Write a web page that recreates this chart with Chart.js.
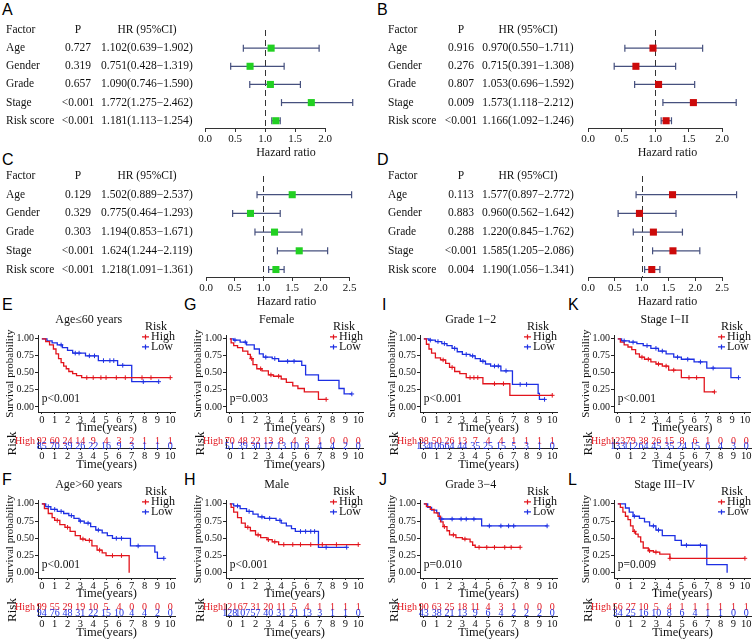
<!DOCTYPE html>
<html>
<head>
<meta charset="utf-8">
<script src="https://cdn.jsdelivr.net/npm/chart.js@4.4.1/dist/chart.umd.min.js"></script>
<style>
  body { margin: 0; background: #fff; }
  #fig { position: relative; width: 755px; height: 642px; overflow: hidden; background: #fff; }
  #fig canvas { position: absolute; }
  .tag { position: absolute; font: 16px 'Liberation Sans', Arial, sans-serif; color: #000; line-height: 20px; }
</style>
</head>
<body>
<div id="fig">
  <div class="tag" style="left:2px;top:0px">A</div>
  <div class="tag" style="left:377px;top:0px">B</div>
  <div class="tag" style="left:2px;top:150px">C</div>
  <div class="tag" style="left:377px;top:150px">D</div>
  <div class="tag" style="left:2px;top:295px">E</div>
  <div class="tag" style="left:184px;top:295px">G</div>
  <div class="tag" style="left:382px;top:295px">I</div>
  <div class="tag" style="left:568px;top:295px">K</div>
  <div class="tag" style="left:2px;top:470px">F</div>
  <div class="tag" style="left:184px;top:470px">H</div>
  <div class="tag" style="left:379px;top:470px">J</div>
  <div class="tag" style="left:568px;top:470px">L</div>
</div>
<script>
Chart.defaults.font.family = "'Liberation Serif', 'Times New Roman', serif";
Chart.defaults.color = '#111';

const RED = '#e2141c';
const BLUE = '#1d2fe3';
const GREEN = '#22d022';
const DARKRED = '#cc0a0a';
const CI = '#46507e';

// ---- forest plots (A-D) ----
const factors = ['Age', 'Gender', 'Grade', 'Stage', 'Risk score'];

const pA = ['0.727', '0.319', '0.657', '<0.001', '<0.001'];
const hrA = [1.102, 0.751, 1.090, 1.772, 1.181];
const loA = [0.639, 0.428, 0.746, 1.275, 1.113];
const hiA = [1.902, 1.319, 1.590, 2.462, 1.254];

const pB = ['0.916', '0.276', '0.807', '0.009', '<0.001'];
const hrB = [0.970, 0.715, 1.053, 1.573, 1.166];
const loB = [0.550, 0.391, 0.696, 1.118, 1.092];
const hiB = [1.711, 1.308, 1.592, 2.212, 1.246];

const pC = ['0.129', '0.329', '0.303', '<0.001', '<0.001'];
const hrC = [1.502, 0.775, 1.194, 1.624, 1.218];
const loC = [0.889, 0.464, 0.853, 1.244, 1.091];
const hiC = [2.537, 1.293, 1.671, 2.119, 1.361];

const pD = ['0.113', '0.883', '0.288', '<0.001', '0.004'];
const hrD = [1.577, 0.960, 1.220, 1.585, 1.190];
const loD = [0.897, 0.562, 0.845, 1.205, 1.056];
const hiD = [2.772, 1.642, 1.762, 2.086, 1.341];

const hrTicks20 = [0, 0.5, 1, 1.5, 2];
const hrTicks25 = [0, 0.5, 1, 1.5, 2, 2.5];

// ---- Kaplan-Meier panels (E-L) ----
const years = [0, 1, 2, 3, 4, 5, 6, 7, 8, 9, 10];
const survTicks = [0, 0.25, 0.5, 0.75, 1];
const riskGroups = ['High', 'Low'];

// E: Age<=60
const eHighT = [0, 0.3, 0.6, 0.9, 1.1, 1.3, 1.5, 1.7, 1.9, 2.1, 2.4, 2.7, 3.1, 10];
const eHighS = [1, 0.96, 0.91, 0.85, 0.78, 0.71, 0.65, 0.60, 0.56, 0.52, 0.49, 0.46, 0.43, 0.43];
const eHighC = [3.5, 4.0, 4.6, 5.0, 5.8, 6.5, 7.8, 8.5, 10];
const eLowT = [0, 0.4, 0.8, 1.2, 1.6, 2.0, 2.4, 3.4, 4.4, 5.9, 7.0, 9.1];
const eLowS = [1, 0.97, 0.94, 0.91, 0.87, 0.83, 0.79, 0.75, 0.68, 0.61, 0.37, 0.37];
const eLowC = [1.5, 2.6, 2.9, 3.7, 4.1, 4.8, 5.3, 5.6, 6.3, 7.9, 9.1];
const eRiskHigh = [92, 60, 24, 14, 9, 4, 3, 2, 1, 1, 1];
const eRiskLow = [85, 70, 39, 26, 22, 16, 9, 3, 1, 1, 0];

// G: Female
const gHighT = [0, 0.1, 0.3, 0.6, 1.0, 1.4, 1.6, 1.8, 2.1, 2.5, 3.0, 3.4, 4.0, 4.4, 4.9, 5.3, 5.8, 6.9, 7.5];
const gHighS = [1, 0.94, 0.90, 0.87, 0.82, 0.77, 0.71, 0.62, 0.56, 0.53, 0.47, 0.45, 0.41, 0.36, 0.31, 0.27, 0.22, 0.11, 0.11];
const gHighC = [1.7, 2.4, 3.2, 3.8, 7.5];
const gLowT = [0, 0.3, 0.8, 1.3, 1.9, 2.3, 2.6, 3.3, 3.8, 5.6, 5.9, 6.9, 8.5, 8.9, 9.5];
const gLowS = [1, 0.98, 0.95, 0.91, 0.85, 0.78, 0.73, 0.71, 0.67, 0.61, 0.47, 0.39, 0.27, 0.19, 0.19];
const gLowC = [0.4, 1.2, 2.8, 3.5, 4.5, 5.0, 9.5];
const gRiskHigh = [70, 48, 22, 13, 8, 4, 3, 1, 0, 0, 0];
const gRiskLow = [51, 39, 30, 17, 13, 10, 6, 4, 4, 2, 0];

// I: Grade 1-2
const iHighT = [0, 0.2, 0.4, 0.6, 0.9, 1.3, 1.7, 2.0, 2.4, 2.8, 3.3, 4.6, 6.7, 10];
const iHighS = [1, 0.92, 0.85, 0.79, 0.72, 0.69, 0.64, 0.58, 0.52, 0.49, 0.43, 0.34, 0.17, 0.17];
const iHighC = [1.5, 2.2, 3.6, 3.9, 4.2, 5.5, 6.2, 10];
const iLowT = [0, 0.4, 0.9, 1.4, 1.8, 2.2, 2.6, 3.0, 3.6, 4.0, 4.4, 4.8, 5.2, 6.0, 6.9, 8.9, 9.0, 9.4];
const iLowS = [1, 0.98, 0.96, 0.93, 0.90, 0.86, 0.81, 0.77, 0.75, 0.71, 0.67, 0.63, 0.60, 0.53, 0.33, 0.20, 0.11, 0.11];
const iLowC = [0.5, 1.1, 1.6, 2.4, 3.3, 3.8, 4.6, 5.5, 5.8, 6.4, 7.5, 8.0, 9.4];
const iRiskHigh = [98, 50, 26, 13, 7, 4, 4, 1, 1, 1, 1];
const iRiskLow = [134, 106, 64, 44, 35, 25, 15, 5, 3, 1, 0];

// K: Stage I-II
const kHighT = [0, 0.2, 0.5, 0.8, 1.1, 1.4, 1.7, 2.1, 2.6, 3.0, 3.5, 4.0, 5.0, 6.8, 7.6];
const kHighS = [1, 0.95, 0.91, 0.88, 0.84, 0.78, 0.73, 0.70, 0.66, 0.63, 0.60, 0.54, 0.43, 0.22, 0.22];
const kHighC = [1.9, 2.4, 3.2, 3.8, 4.4, 5.6, 6.2, 7.6];
const kLowT = [0, 0.3, 0.9, 1.5, 2.0, 2.6, 3.2, 3.8, 4.4, 5.0, 6.0, 7.0, 8.9, 9.5];
const kLowS = [1, 0.97, 0.95, 0.93, 0.90, 0.86, 0.82, 0.78, 0.73, 0.70, 0.66, 0.57, 0.43, 0.43];
const kLowC = [0.5, 1.2, 2.3, 3.0, 3.5, 4.7, 5.5, 6.5, 7.5, 9.5];
const kRiskHigh = [123, 79, 38, 26, 15, 8, 6, 1, 0, 0, 0];
const kRiskLow = [133, 112, 64, 45, 35, 24, 15, 6, 4, 3, 0];

// F: Age>60
const fHighT = [0, 0.2, 0.5, 0.8, 1.0, 1.4, 1.8, 2.2, 2.6, 3.0, 3.4, 3.9, 4.3, 4.7, 5.0, 6.8];
const fHighS = [1, 0.93, 0.86, 0.80, 0.76, 0.70, 0.66, 0.60, 0.54, 0.49, 0.47, 0.39, 0.33, 0.29, 0.25, 0];
const fHighC = [1.2, 2.0, 3.2, 3.7, 4.5, 5.5, 6.2];
const fLowT = [0, 0.3, 0.7, 1.2, 1.7, 2.1, 2.5, 2.9, 3.3, 3.8, 4.2, 4.7, 5.1, 5.5, 6.9, 8.8, 9.0, 9.5];
const fLowS = [1, 0.96, 0.92, 0.89, 0.86, 0.83, 0.79, 0.75, 0.72, 0.67, 0.62, 0.58, 0.54, 0.50, 0.39, 0.30, 0.21, 0.21];
const fLowC = [0.5, 1.0, 1.5, 2.3, 3.0, 3.6, 4.4, 5.8, 6.2, 7.5, 9.5];
const fRiskHigh = [99, 55, 29, 19, 10, 5, 4, 0, 0, 0, 0];
const fRiskLow = [94, 76, 48, 31, 22, 15, 10, 4, 4, 2, 0];

// H: Male
const hHighT = [0, 0.1, 0.3, 0.6, 0.9, 1.2, 1.6, 2.0, 2.4, 2.9, 3.3, 3.8, 10];
const hHighS = [1, 0.95, 0.88, 0.80, 0.72, 0.66, 0.61, 0.55, 0.51, 0.48, 0.45, 0.41, 0.41];
const hHighC = [1.4, 2.2, 3.0, 3.5, 4.2, 4.9, 5.5, 6.3, 7.2, 8.3, 10];
const hLowT = [0, 0.3, 0.8, 1.3, 1.8, 2.2, 2.7, 3.6, 4.0, 4.4, 4.8, 5.1, 6.9, 9.1];
const hLowS = [1, 0.97, 0.93, 0.89, 0.85, 0.81, 0.79, 0.76, 0.72, 0.68, 0.64, 0.60, 0.37, 0.37];
const hLowC = [0.6, 1.5, 2.5, 3.1, 3.9, 5.5, 5.9, 6.3, 6.6, 7.5, 9.1];
const hRiskHigh = [121, 67, 31, 20, 11, 5, 4, 1, 1, 1, 1];
const hRiskLow = [128, 107, 57, 40, 31, 21, 13, 3, 1, 1, 0];

// J: Grade 3-4
const jHighT = [0, 0.2, 0.5, 0.8, 1.1, 1.3, 1.5, 1.8, 2.0, 2.5, 3.0, 3.6, 3.8, 4.0, 7.5];
const jHighS = [1, 0.96, 0.92, 0.87, 0.82, 0.74, 0.67, 0.61, 0.55, 0.51, 0.49, 0.45, 0.40, 0.37, 0.37];
const jHighC = [1.6, 2.3, 3.2, 4.3, 4.9, 5.5, 6.3, 6.8, 7.5];
const jLowT = [0, 0.3, 0.6, 1.0, 1.2, 4.5, 9.6];
const jLowS = [1, 0.95, 0.91, 0.87, 0.78, 0.68, 0.68];
const jLowC = [1.4, 2.2, 2.9, 3.3, 3.9, 5.1, 6.0, 6.6, 7.0, 9.6];
const jRiskHigh = [90, 63, 25, 18, 11, 4, 3, 1, 0, 0, 0];
const jRiskLow = [43, 38, 21, 13, 9, 6, 4, 2, 2, 2, 0];

// L: Stage III-IV
const lHighT = [0, 0.2, 0.4, 0.6, 0.8, 1.0, 1.2, 1.4, 1.6, 1.8, 2.0, 2.4, 2.8, 3.3, 4.1, 10];
const lHighS = [1, 0.95, 0.88, 0.82, 0.77, 0.68, 0.60, 0.56, 0.52, 0.45, 0.36, 0.32, 0.30, 0.27, 0.21, 0.21];
const lHighC = [1.3, 2.5, 3.0, 4.1, 10];
const lLowT = [0, 0.6, 0.9, 1.2, 1.7, 2.1, 2.5, 3.0, 3.5, 4.5, 5.0, 7.0, 8.6, 8.6];
const lLowS = [1, 0.94, 0.88, 0.82, 0.79, 0.74, 0.68, 0.62, 0.54, 0.47, 0.40, 0.12, 0.12, 0];
const lLowC = [1.3, 2.8, 3.2, 5.4, 6.5];
const lRiskHigh = [56, 27, 10, 5, 4, 1, 1, 1, 1, 1, 1];
const lRiskLow = [34, 25, 16, 10, 8, 6, 4, 1, 1, 0, 0];

const fig = document.getElementById('fig');
function addCanvas(x, y, w, h) {
  const c = document.createElement('canvas');
  c.width = w; c.height = h;
  c.style.left = x + 'px'; c.style.top = y + 'px';
  c.style.width = w + 'px'; c.style.height = h + 'px';
  fig.appendChild(c);
  return c;
}

// dashed line at HR = 1, axis line and the left-hand table
const forestText = {
  id: 'forestText',
  beforeDatasetsDraw(chart, args, o) {
    const { ctx, chartArea: a, scales: { x } } = chart;
    ctx.save();
    ctx.strokeStyle = '#333';
    ctx.lineWidth = 1;
    ctx.beginPath();
    ctx.moveTo(x.getPixelForValue(o.ticks[0]), a.bottom + 0.5);
    ctx.lineTo(x.getPixelForValue(o.ticks[o.ticks.length - 1]), a.bottom + 0.5);
    ctx.stroke();
    ctx.setLineDash([6, 4]);
    const rx = Math.round(x.getPixelForValue(1)) + 0.5;
    ctx.beginPath();
    ctx.moveTo(rx, a.top);
    ctx.lineTo(rx, a.bottom);
    ctx.stroke();
    ctx.restore();
  },
  afterDraw(chart, args, o) {
    const { ctx, scales: { y } } = chart;
    ctx.save();
    ctx.font = "11.5px 'Liberation Serif'";
    ctx.fillStyle = '#111';
    ctx.textBaseline = 'middle';
    const line = (yy, a, b, c) => {
      ctx.textAlign = 'left'; ctx.fillText(a, o.cols[0], yy);
      ctx.textAlign = 'center'; ctx.fillText(b, o.cols[1], yy); ctx.fillText(c, o.cols[2], yy);
    };
    line(y.getPixelForValue(0), 'Factor', 'P', 'HR (95%CI)');
    factors.forEach((f, i) => {
      line(y.getPixelForValue(i + 1), f, o.pv[i],
        `${o.hr[i].toFixed(3)}(${o.lo[i].toFixed(3)}\u2212${o.hi[i].toFixed(3)})`);
    });
    ctx.restore();
  }
};

function forest(left, top, w, h, padL, ppu, ticks, cols, hr, lo, hi, pv, color) {
  const ds = [{
    data: hr.map((v, i) => ({ x: v, y: i + 1 })),
    pointStyle: 'rect', pointRadius: 5, pointBackgroundColor: color, pointBorderWidth: 0
  }];
  hr.forEach((v, i) => ds.push({
    data: [{ x: lo[i], y: i + 1 }, { x: hi[i], y: i + 1 }],
    showLine: true, borderColor: CI, borderWidth: 1.2,
    pointStyle: 'line', rotation: 90, pointRadius: 3.5, pointBorderColor: CI, pointBorderWidth: 1.2
  }));
  new Chart(addCanvas(left, top, w, h), {
    type: 'scatter',
    data: { datasets: ds },
    options: {
      responsive: false, animation: false, devicePixelRatio: 1, events: [],
      layout: { padding: { left: padL, right: 8, top: 30, bottom: 0 } },
      plugins: {
        legend: { display: false }, tooltip: { enabled: false },
        forestText: { cols, hr, lo, hi, pv, ticks }
      },
      scales: {
        x: {
          type: 'linear', min: 0, max: (w - padL - 8) / ppu,
          afterBuildTicks: s => { s.ticks = ticks.map(v => ({ value: v })); },
          ticks: { callback: v => v.toFixed(1), font: { size: 11 }, padding: 1, maxRotation: 0, autoSkip: false },
          grid: { drawOnChartArea: false, tickLength: 4, color: '#333' },
          border: { display: false },
          title: { display: true, text: 'Hazard ratio', font: { size: 12 }, padding: 0 },
          afterFit: s => { s.height = 32; }
        },
        y: { type: 'linear', display: false, reverse: true, min: 0, max: 5.4 }
      }
    },
    plugins: [forestText]
  });
}

forest(0, 0, 375, 160, 205, 60, hrTicks20, [6, 78, 147], hrA, loA, hiA, pA, GREEN);
forest(375, 0, 380, 160, 213, 67, hrTicks20, [13, 86, 153], hrB, loB, hiB, pB, DARKRED);
forest(0, 146, 375, 163, 206, 57.4, hrTicks25, [6, 78, 147], hrC, loC, hiC, pC, GREEN);
forest(375, 146, 380, 163, 213, 53.6, hrTicks25, [13, 86, 153], hrD, loD, hiD, pD, DARKRED);

// ---- KM helpers ----
const pts = (T, S) => T.map((t, i) => ({ x: t, y: S[i] }));
const stepAt = (T, S, t) => { let v = S[0]; T.forEach((tt, i) => { if (tt <= t) v = S[i]; }); return v; };

const kmDecor = {
  id: 'kmDecor',
  afterDraw(chart, args, o) {
    const { ctx, chartArea: a, scales: { x, y } } = chart;
    ctx.save();
    ctx.textBaseline = 'middle';
    ctx.textAlign = 'left';
    ctx.fillStyle = '#111';
    ctx.font = "11.5px 'Liberation Serif'";
    ctx.fillText(o.p, x.getPixelForValue(0), y.getPixelForValue(0.11));
    const lx = a.left + 104;
    ctx.font = "12px 'Liberation Serif'";
    ctx.fillText('Risk', lx + 3, a.top - 9);
    [[riskGroups[0], RED, a.top + 1.5], [riskGroups[1], BLUE, a.top + 11.5]].forEach(([lab, c, yy]) => {
      ctx.strokeStyle = c;
      ctx.lineWidth = 1.2;
      ctx.beginPath();
      ctx.moveTo(lx, yy); ctx.lineTo(lx + 7, yy);
      ctx.moveTo(lx + 3.5, yy - 2.5); ctx.lineTo(lx + 3.5, yy + 2.5);
      ctx.stroke();
      ctx.fillStyle = '#111';
      ctx.fillText(lab, lx + 9, yy);
    });
    ctx.restore();
  }
};

const riskCounts = {
  id: 'riskCounts',
  afterDraw(chart, args, o) {
    const { ctx, scales: { x, y } } = chart;
    ctx.save();
    ctx.font = "10px 'Liberation Serif'";
    ctx.textAlign = 'center';
    ctx.textBaseline = 'middle';
    [[o.high, RED, 0], [o.low, BLUE, 1]].forEach(([arr, c, row]) => {
      ctx.fillStyle = c;
      arr.forEach((n, i) => ctx.fillText(String(n), x.getPixelForValue(years[i]), y.getPixelForValue(row)));
    });
    ctx.restore();
  }
};

const timeAxis = (h) => ({
  type: 'linear', min: -0.3, max: 10.4,
  afterBuildTicks: s => { s.ticks = years.map(v => ({ value: v })); },
  ticks: { font: { size: 10.5 }, padding: 0, maxRotation: 0, autoSkip: false },
  grid: { drawOnChartArea: false, tickLength: 2, color: '#222' },
  border: { color: '#222' },
  title: { display: true, text: 'Time(years)', font: { size: 12.5 }, padding: 0 },
  afterFit: s => { s.height = h; }
});

// row 0 = top row of KM panels, row 1 = bottom row
const rowMain = [[309, 126], [474, 127]];
const rowTable = [[430, 42], [595, 45]];

function km(left, w, row, title, pText, hT, hS, hC, lT, lS, lC, nHigh, nLow) {
  const padR = w - 36 - 10.7 * 12.84;
  new Chart(addCanvas(left, rowMain[row][0], w, rowMain[row][1]), {
    type: 'scatter',
    data: {
      datasets: [
        { data: hC.map(t => ({ x: t, y: stepAt(hT, hS, t) })), pointStyle: 'cross', pointRadius: 2.3, pointBorderColor: RED, pointBorderWidth: 1 },
        { data: lC.map(t => ({ x: t, y: stepAt(lT, lS, t) })), pointStyle: 'cross', pointRadius: 2.3, pointBorderColor: BLUE, pointBorderWidth: 1 },
        { data: pts(hT, hS), showLine: true, stepped: true, borderColor: RED, borderWidth: 1.3, pointRadius: 0 },
        { data: pts(lT, lS), showLine: true, stepped: true, borderColor: BLUE, borderWidth: 1.3, pointRadius: 0 }
      ]
    },
    options: {
      responsive: false, animation: false, devicePixelRatio: 1, events: [],
      layout: { padding: { left: 0, right: padR, top: 0, bottom: 0 } },
      plugins: {
        legend: { display: false }, tooltip: { enabled: false },
        title: { display: true, text: title, font: { size: 12, weight: 'normal' }, color: '#111', padding: { top: 4, bottom: 8 } },
        kmDecor: { p: pText }
      },
      scales: {
        x: timeAxis(23),
        y: {
          type: 'linear', min: -0.075, max: 1.05,
          afterBuildTicks: s => { s.ticks = survTicks.map(v => ({ value: v })); },
          ticks: { callback: v => v.toFixed(2), font: { size: 10 }, padding: 1 },
          grid: { drawOnChartArea: false, tickLength: 3, color: '#222' },
          border: { color: '#222' },
          title: { display: true, text: 'Survival probability', font: { size: 11 }, padding: { top: 2, bottom: 0 } },
          afterFit: s => { s.width = 36; }
        }
      }
    },
    plugins: [kmDecor]
  });

  new Chart(addCanvas(left, rowTable[row][0], w, rowTable[row][1]), {
    type: 'scatter',
    data: { datasets: [{ data: [] }] },
    options: {
      responsive: false, animation: false, devicePixelRatio: 1, events: [],
      layout: { padding: { left: 0, right: padR, top: 2, bottom: 0 } },
      plugins: { legend: { display: false }, tooltip: { enabled: false }, riskCounts: { high: nHigh, low: nLow } },
      scales: {
        x: timeAxis(24),
        y: {
          type: 'linear', min: -0.55, max: 1.35, reverse: true,
          afterBuildTicks: s => { s.ticks = [0, 1].map(v => ({ value: v })); },
          ticks: { callback: v => riskGroups[v], color: c => (c.tick && c.tick.value === 0 ? RED : BLUE), font: { size: 10 }, padding: 3 },
          grid: { drawOnChartArea: false, drawTicks: false },
          border: { color: '#222' },
          title: { display: true, text: 'Risk', font: { size: 13 }, padding: { top: 3, bottom: 0 } },
          afterFit: s => { s.width = 36; }
        }
      }
    },
    plugins: [riskCounts]
  });
}

km(2, 183, 0, 'Age\u226460 years', 'p<0.001', eHighT, eHighS, eHighC, eLowT, eLowS, eLowC, eRiskHigh, eRiskLow);
km(190, 183, 0, 'Female', 'p=0.003', gHighT, gHighS, gHighC, gLowT, gLowS, gLowC, gRiskHigh, gRiskLow);
km(384, 183, 0, 'Grade 1\u22122', 'p<0.001', iHighT, iHighS, iHighC, iLowT, iLowS, iLowC, iRiskHigh, iRiskLow);
km(578, 177, 0, 'Stage I\u2212II', 'p<0.001', kHighT, kHighS, kHighC, kLowT, kLowS, kLowC, kRiskHigh, kRiskLow);
km(2, 183, 1, 'Age>60 years', 'p<0.001', fHighT, fHighS, fHighC, fLowT, fLowS, fLowC, fRiskHigh, fRiskLow);
km(190, 183, 1, 'Male', 'p<0.001', hHighT, hHighS, hHighC, hLowT, hLowS, hLowC, hRiskHigh, hRiskLow);
km(384, 183, 1, 'Grade 3\u22124', 'p=0.010', jHighT, jHighS, jHighC, jLowT, jLowS, jLowC, jRiskHigh, jRiskLow);
km(578, 177, 1, 'Stage III\u2212IV', 'p=0.009', lHighT, lHighS, lHighC, lLowT, lLowS, lLowC, lRiskHigh, lRiskLow);
</script>
</body>
</html>
